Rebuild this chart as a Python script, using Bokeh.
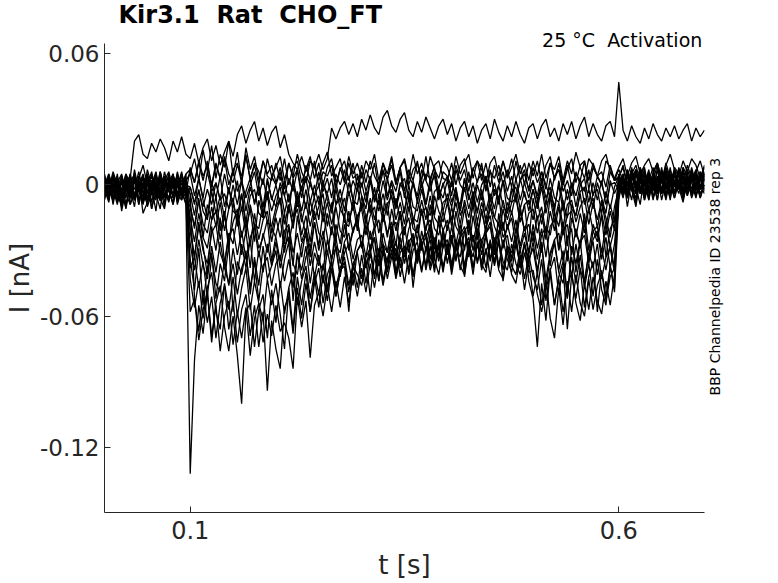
import math
from bokeh.plotting import figure
from bokeh.models import Range1d, FixedTicker, ColumnDataSource, LinearAxis
from bokeh.embed import file_html
from bokeh.resources import INLINE

# ---- data: current in pA, one sample every 5 ms from 0 to 0.7 s ----
dt = 0.005
n_samples = 141
time_s = [round(i * dt, 3) for i in range(n_samples)]

sweep_01 = [-6, 3, -9, 2, -4, -10, 1, 5, -7, -2, 4, -11, -3, 2, -8, 0, -5, 6, -3, -9,
            -132, -80, -55, -68, -49, -72, -54, -46, -65, -76, -60, -78, -100, -58, -54, -74, -57, -50, -70, -48,
            -63, -44, -59, -47, -66, -42, -55, -40, -58, -45, -38, -54, -41, -35, -51, -39, -37, -58, -36, -47,
            -32, -45, -31, -43, -29, -44, -34, -27, -42, -31, -28, -41, -30, -26, -39, -29, -25, -38, -28, -40,
            -27, -37, -25, -39, -28, -24, -38, -27, -36, -23, -35, -26, -38, -25, -34, -40, -27, -37, -26, -44,
            -52, -74, -45, -62, -38, -55, -42, -35, -50, -33, -45, -32, -47, -36, -51, -34, -48, -55, -37, -49,
            -7, 4, -3, 8, -1, -9, 5, -4, 2, 9, -3, 4, -7, 6, -1, -5, 7, 1, -6, 3, -2]
sweep_02 = [3, -7, 5, -4, -10, 1, 4, -6, -1, -8, 5, -3, 1, -7, 4, -2, -9, 2, -5, 1,
            -4, -52, -67, -48, -63, -51, -70, -54, -46, -66, -53, -72, -57, -50, -69, -55, -74, -58, -94, -62,
            -75, -84, -56, -51, -68, -47, -61, -45, -58, -42, -56, -41, -53, -38, -51, -40, -35, -49, -37, -41,
            -46, -34, -51, -32, -44, -30, -43, -33, -29, -42, -31, -27, -41, -30, -26, -39, -28, -40, -25, -38,
            -27, -41, -29, -25, -39, -28, -41, -26, -38, -29, -42, -27, -39, -43, -30, -41, -45, -32, -48, -35,
            -51, -40, -55, -43, -61, -70, -47, -64, -44, -58, -41, -54, -60, -43, -57, -46, -40, -53, -42, -38,
            5, -3, 7, -1, -6, 4, 8, -3, 2, -7, 6, -1, 4, -4, 8, 2, -5, 7, -2, 3, 9]
sweep_03 = [-4, 5, -2, -9, 3, 0, -6, 7, -3, -8, 2, -1, -12, 4, -5, 1, 5, -9, -2, 3,
            -43, -56, -44, -61, -47, -40, -58, -66, -45, -57, -42, -60, -47, -38, -57, -44, -54, -62, -43, -55,
            -45, -59, -75, -47, -40, -55, -44, -37, -52, -40, -50, -36, -48, -35, -47, -38, -33, -46, -36, -31,
            -43, -33, -29, -41, -31, -27, -40, -30, -26, -38, -28, -39, -25, -36, -27, -24, -37, -26, -35, -23,
            -36, -25, -34, -24, -37, -26, -23, -35, -27, -38, -25, -36, -26, -39, -28, -37, -41, -29, -43, -32,
            -42, -48, -34, -53, -39, -33, -50, -37, -66, -41, -52, -38, -56, -42, -35, -58, -39, -51, -37, -47,
            -2, 5, -10, 2, 7, -4, 0, 6, -6, 3, -2, 8, -4, 2, 5, -7, 1, 4, -3, 6, 2]
sweep_04 = [1, -6, 4, -8, -2, 5, -9, -4, 2, -6, 7, 0, -4, -11, 3, -2, 4, -7, 1, -4,
            -38, -33, -47, -35, -51, -33, -45, -49, -34, -46, -36, -50, -38, -32, -47, -35, -53, -37, -33, -46,
            -36, -32, -44, -34, -47, -31, -43, -33, -29, -42, -32, -45, -30, -40, -28, -41, -31, -27, -39, -30,
            -26, -38, -28, -24, -37, -27, -39, -25, -35, -24, -36, -26, -23, -35, -25, -22, -34, -24, -33, -21,
            -32, -23, -35, -24, -21, -33, -23, -36, -25, -22, -34, -24, -37, -26, -23, -35, -25, -38, -27, -36,
            -26, -39, -28, -43, -31, -25, -40, -45, -30, -42, -27, -39, -44, -31, -26, -41, -29, -39, -27, -38,
            4, -5, 1, 7, -4, 2, -7, 5, 0, -2, 8, -5, 4, 1, -4, 6, -2, 2, 5, -6, 0]
sweep_05 = [-7, 2, -4, 5, -12, -2, 4, -6, 1, -8, -3, 5, -2, -7, 0, 4, -6, -1, 6, -4,
            -27, -39, -25, -37, -43, -28, -40, -26, -38, -45, -29, -41, -27, -38, -25, -44, -30, -40, -27, -37,
            -26, -38, -28, -24, -36, -41, -27, -23, -37, -26, -35, -39, -25, -34, -24, -36, -26, -22, -34, -25,
            -23, -33, -21, -32, -35, -22, -31, -20, -33, -23, -19, -31, -22, -34, -21, -30, -18, -29, -32, -20,
            -30, -19, -29, -33, -21, -18, -30, -20, -32, -22, -19, -31, -21, -17, -29, -33, -20, -30, -22, -32,
            -21, -34, -23, -19, -37, -25, -22, -35, -24, -20, -40, -26, -23, -36, -25, -21, -34, -24, -38, -27,
            -4, 3, -6, 7, 1, -3, 6, -7, 4, 0, -4, 8, 2, -6, 1, 4, -2, 7, -5, 2, 5]
sweep_06 = [4, -2, -7, 1, 5, -4, -9, 3, -3, 4, -6, 0, 6, -4, -2, -8, 2, -6, 4, -2,
            -21, -33, -19, -30, -36, -22, -18, -31, -37, -23, -20, -32, -21, -34, -24, -19, -33, -22, -31, -20,
            -24, -35, -21, -18, -31, -22, -33, -20, -29, -17, -30, -21, -32, -19, -28, -31, -18, -29, -20, -16,
            -28, -18, -30, -20, -16, -27, -31, -19, -17, -29, -20, -15, -28, -18, -30, -19, -16, -27, -17, -29,
            -19, -15, -27, -18, -30, -16, -26, -17, -28, -19, -14, -27, -17, -29, -18, -26, -16, -28, -19, -31,
            -18, -29, -20, -33, -19, -16, -30, -21, -18, -32, -20, -29, -17, -35, -21, -19, -31, -18, -28, -20,
            2, -4, 6, -2, -10, 4, 0, 7, -6, 2, -3, 5, -4, 7, 1, -6, 4, -2, 6, 0, -4]
sweep_07 = [-2, -8, 4, -4, 1, -6, 5, -7, -2, 3, -10, -4, 4, 0, -6, -1, 5, -4, -7, 1,
            -15, -26, -13, -24, -29, -16, -12, -25, -14, -27, -17, -11, -24, -15, -28, -13, -25, -16, -12, -26,
            -15, -24, -13, -27, -16, -11, -23, -14, -26, -12, -22, -25, -13, -23, -10, -21, -24, -12, -22, -14,
            -11, -23, -14, -10, -22, -13, -24, -11, -21, -12, -23, -10, -20, -22, -11, -21, -9, -20, -23, -12,
            -21, -10, -19, -23, -11, -20, -9, -22, -12, -21, -10, -19, -24, -11, -20, -12, -22, -10, -21, -13,
            -11, -22, -13, -25, -12, -21, -10, -23, -14, -12, -24, -13, -22, -11, -21, -26, -13, -23, -12, -21,
            5, 0, -4, 4, -2, 7, -5, 2, 0, -4, 6, -2, 8, -4, 2, -2, 4, -6, 0, 5, 2]
sweep_08 = [5, -4, 0, -7, 2, -2, -6, 4, -9, 0, 2, -4, -7, 5, -2, 0, -5, 4, -4, 2,
            -9, -20, -7, -18, -22, -10, -19, -8, -21, -11, -6, -19, -10, -23, -9, -18, -20, -8, -17, -19,
            -10, -6, -18, -9, -20, -7, -17, -8, -19, -10, -5, -17, -8, -18, -9, -6, -17, -19, -7, -16,
            -8, -18, -6, -16, -7, -17, -9, -5, -16, -8, -18, -6, -15, -17, -7, -16, -5, -15, -18, -8,
            -6, -16, -8, -18, -7, -15, -5, -17, -8, -16, -6, -15, -18, -7, -16, -8, -6, -17, -9, -7,
            -16, -7, -18, -9, -6, -17, -8, -19, -9, -7, -17, -10, -6, -18, -8, -16, -7, -19, -9, -17,
            0, -5, 4, -2, 6, -4, 2, -7, 4, 0, -2, 6, -4, 0, 7, -2, 2, -4, 5, -2, 4]
sweep_09 = [-4, 1, -6, 2, -9, 4, -2, -7, 0, 5, -4, -2, 2, -6, -11, 2, 0, -4, 5, -2,
            -4, -14, -2, -12, -16, -3, -13, -5, -15, -1, -12, -14, -4, -17, -5, -2, -13, -15, -3, -12,
            -5, -1, -13, -4, -15, -3, -12, -2, -14, -5, 0, -12, -4, -13, -2, -11, -15, -3, -12, -1,
            -11, -3, -13, -1, -12, -4, -14, -2, -11, -3, -13, 0, -10, -12, -2, -11, -14, -3, -1, -12,
            -4, -10, -2, -12, -1, -11, -3, -13, -2, -12, -4, -11, 0, -10, -13, -3, -1, -11, -3, -12,
            -2, -11, -1, -13, -3, -10, 0, -12, -2, -11, -14, -3, -1, -12, -4, -2, -13, -3, -11, -1,
            4, -2, 7, 0, -4, 5, -6, 2, 8, -2, 4, -4, 0, 6, -2, 7, -5, 2, 4, -4, 0]
sweep_10 = [2, -6, -1, 4, -8, 0, -4, 5, -2, -9, 0, 4, -6, 2, -4, -7, 4, 0, -2, -6,
            -1, -8, -3, -10, -2, -9, 1, -7, -4, -11, 0, -9, 2, -12, -1, -8, 0, -10, 3, -7,
            0, -9, 2, -8, 1, -10, -1, 3, -8, 0, -9, 2, -7, -11, 1, -8, 0, 4, -7, -9,
            1, -8, 3, -6, -9, 2, -7, 1, -10, 0, 3, -7, 1, -8, 2, -9, 0, 4, -7, 1,
            -8, 2, -6, -9, 3, -7, 1, -8, 0, 4, -7, 1, -9, 2, -6, -8, 3, -7, 1, -6,
            2, -7, 1, -9, 3, -6, -8, 2, -7, 1, -10, 0, 3, -8, 1, -7, 2, -9, 0, 1,
            -2, 4, -6, 2, 7, -4, 0, 5, -2, 4, -7, 2, 5, -4, 0, 8, -2, 4, -5, 2, 6]
sweep_11 = [-6, 0, 4, -4, -8, 2, -2, -10, 4, 0, -6, 2, -4, 6, -2, -6, 0, 4, -7, 2,
            5, -5, 3, -6, 6, -3, 1, -7, 5, -4, 7, -3, 2, -6, 0, 6, -5, 3, -7, 4,
            0, 6, -5, 3, -3, 7, -6, 4, 0, -5, 6, -3, 3, -6, 5, 0, 7, -5, 2, -3,
            6, -3, 4, -6, 1, 7, -5, 2, -3, 6, -6, 4, 0, -5, 7, 2, -3, 6, -5, 0,
            4, -5, 7, 0, -3, 6, -6, 2, 5, -3, 7, -5, 0, 6, -3, 4, -6, 2, 7, -3,
            2, -5, 6, 0, -6, 4, 7, -3, 2, -5, 6, 0, -3, 7, -5, 4, 0, -6, 6, 2,
            7, 2, -3, 5, 0, 8, -4, 4, 2, -2, 7, 0, 4, -4, 6, 2, -2, 8, 0, 4, 5]
sweep_12 = [0, 5, -4, 2, -6, 4, 0, -2, 6, -4, 2, -11, 0, 4, -2, 5, -6, 0, 2, -4,
            8, 1, 10, 2, 11, -1, 9, 3, 12, 0, 7, 10, 1, 13, 3, 9, 0, 11, 4, 2,
            10, 2, 12, 0, 8, 11, 1, 7, 13, 3, 10, 0, 8, 12, 1, 7, 11, 2, 10, -1,
            9, 1, 11, 4, 0, 10, 2, 12, 1, 8, 11, 0, 7, 10, 2, 13, 1, 9, 11, 3,
            2, 10, 0, 9, 12, 1, 7, 11, 2, 10, -1, 9, 1, 11, 4, 12, 2, 9, 0, 10,
            4, 11, 1, 9, 13, 2, 10, 0, 7, 12, 1, 9, 11, 2, 10, 4, 0, 11, 8, 2,
            4, 8, -1, 5, 9, 1, 7, -2, 5, 10, 3, 7, -1, 8, 5, 0, 9, 3, 6, 11, 4]
sweep_13 = [3, -2, 6, 0, -4, 5, 1, -5, 3, 9, 0, -2, 5, -4, 2, 6, -2, 4, 0, 5,
            7, 1, 11, 4, 9, 0, 10, 3, 13, 5, 1, 9, 4, 14, 2, 10, 6, 0, 12, 4,
            8, 13, 2, 10, 4, 14, 6, 1, 11, 8, 2, 10, 15, 4, 8, 12, 2, 13, 5, 10,
            3, 11, 7, 14, 2, 10, 5, 13, 1, 8, 12, 3, 14, 5, 10, 2, 13, 7, 3, 11,
            8, 2, 13, 5, 10, 14, 3, 11, 7, 1, 10, 13, 4, 11, 3, 8, 14, 5, 10, 2,
            11, 4, 14, 3, 10, 7, 13, 2, 11, 5, 15, 8, 3, 12, 9, 4, 11, 14, 6, 3,
            8, 12, 4, 10, 13, 5, 9, 12, 6, 10, 2, 9, 14, 7, 4, 11, 6, 12, 9, 3, 8]
sweep_14 = [1, -4, 4, -2, -5, 0, 3, 20, 23, 14, 12, 19, 15, 21, 17, 11, 20, 15, 22, 14,
            12, 19, 10, 17, 21, 11, 18, 9, 15, 20, 13, 23, 27, 19, 25, 29, 20, 26, 18, 24,
            27, 17, 23, 14, 10, 7, 13, 6, 11, 8, 14, 7, 12, 26, 21, 26, 29, 23, 28, 22,
            30, 25, 32, 26, 23, 31, 34, 27, 24, 30, 33, 25, 22, 29, 24, 31, 26, 21, 27, 30,
            23, 28, 20, 26, 29, 22, 27, 19, 25, 28, 21, 30, 24, 20, 27, 22, 29, 23, 19, 26,
            28, 21, 27, 30, 22, 26, 20, 28, 23, 29, 21, 27, 31, 22, 28, 23, 20, 27, 29, 22,
            47, 25, 20, 27, 22, 19, 26, 21, 28, 23, 20, 26, 22, 27, 21, 25, 28, 20, 26, 22, 25]
sweep_15 = [-4, 2, -7, -1, 4, -9, 0, -5, 2, -13, -8, -3, 4, -7, -1, 1, -5, 5, -3, -8,
            -58, -52, -71, -57, -49, -69, -55, -76, -60, -53, -73, -58, -70, -56, -78, -61, -54, -72, -59, -69,
            -55, -67, -63, -70, -84, -51, -65, -53, -79, -55, -49, -60, -46, -58, -44, -56, -42, -54, -40, -51,
            -38, -49, -36, -47, -34, -46, -35, -31, -43, -33, -45, -32, -42, -30, -40, -28, -39, -31, -27, -38,
            -29, -39, -27, -37, -41, -28, -38, -26, -36, -40, -27, -37, -25, -35, -39, -27, -36, -41, -31, -40,
            -39, -50, -58, -47, -41, -55, -43, -58, -46, -40, -54, -62, -45, -57, -42, -53, -59, -44, -55, -41,
            -5, 2, -4, 7, -2, 4, -7, 0, 5, -4, 2, -6, 7, 0, -2, 4, -4, 5, 2, -2, 4]
sweep_16 = [3, -5, 1, -8, 4, -2, -6, 2, -9, 1, 5, -4, -1, -7, 3, -3, -8, 2, -5, 0,
            -1, -9, 3, -7, -15, 1, -6, 4, -10, -2, -8, 2, -12, -3, 3, -9, -1, -14, 2, -6,
            -10, 1, -5, -13, 3, -7, -1, -11, 2, -6, -16, 0, -4, 3, -9, -2, -12, 1, -7, 4,
            -5, -11, 2, -8, -1, -13, 3, -6, -10, 1, -4, -12, 2, -7, 0, -9, 3, -14, -2, -6,
            2, -8, -1, -12, 3, -5, -10, 0, -7, 4, -11, -2, -6, 2, -13, -1, -8, 3, -5, -9,
            -2, -10, 3, -6, -1, -12, 2, -8, -15, 0, -5, 3, -9, -2, -11, 1, -6, -13, 2, -4,
            1, -6, 4, -3, 7, -1, -5, 3, -7, 2, 6, -2, 0, -6, 5, 1, -4, 3, -1, 6, -3]
sweep_17 = [-3, 4, -6, 0, -10, 2, -4, 5, -7, -1, 3, -8, 1, -5, 6, -2, -9, 0, 4, -6,
            -10, -19, -6, -24, -9, -16, -5, -21, -12, -30, -8, -17, -4, -20, -11, -26, -7, -15, -3, -22,
            -13, -6, -27, -9, -18, -5, -14, -23, -7, -16, -10, -4, -19, -8, -25, -11, -6, -17, -9, -21,
            -5, -15, -9, -20, -4, -13, -8, -24, -6, -16, -11, -3, -18, -7, -14, -10, -22, -5, -12, -17,
            -8, -19, -4, -14, -9, -23, -6, -12, -3, -18, -10, -15, -5, -21, -8, -13, -4, -17, -9, -26,
            -6, -16, -10, -22, -5, -13, -19, -7, -28, -9, -14, -4, -18, -11, -6, -20, -8, -15, -24, -10,
            -2, 5, -5, 1, -8, 4, 0, -6, 6, -3, 2, -7, 3, -1, 7, -4, 1, -5, 4, -2, 0]
sweep_18 = [2, -7, 5, -3, -9, 1, -5, 4, -2, -8, 0, 6, -4, -1, -10, 3, -6, 1, -3, 5,
            -20, -33, -17, -28, -41, -19, -30, -15, -36, -22, -27, -14, -32, -21, -38, -18, -29, -24, -16, -35,
            -23, -15, -31, -19, -37, -14, -26, -20, -33, -17, -28, -12, -24, -35, -18, -27, -13, -30, -21, -16,
            -29, -14, -25, -19, -33, -13, -22, -17, -28, -12, -31, -20, -15, -26, -11, -24, -18, -34, -14, -21,
            -16, -27, -12, -23, -19, -30, -14, -25, -11, -22, -17, -32, -13, -24, -20, -15, -28, -12, -21, -18,
            -26, -14, -31, -19, -23, -12, -29, -17, -35, -15, -22, -27, -13, -30, -18, -24, -14, -33, -20, -16,
            4, -3, 1, -7, 5, -1, -5, 3, -2, 7, -4, 0, -6, 4, 2, -3, 6, -5, 1, -2, 3]
sweep_19 = [-5, 1, -8, 3, -2, -11, 0, -6, 4, -3, -9, 2, -4, -7, 1, -2, 5, -8, -1, -4,
            -34, -48, -29, -55, -38, -31, -52, -36, -44, -27, -58, -35, -41, -30, -50, -33, -46, -28, -43, -37,
            -30, -47, -34, -26, -53, -32, -39, -28, -45, -31, -37, -25, -49, -33, -29, -42, -27, -36, -46, -30,
            -27, -38, -31, -24, -44, -29, -35, -23, -40, -28, -33, -25, -47, -30, -26, -37, -22, -34, -41, -28,
            -25, -36, -29, -23, -42, -27, -33, -22, -39, -30, -26, -35, -24, -44, -28, -31, -23, -38, -27, -34,
            -29, -41, -26, -48, -32, -27, -39, -30, -52, -28, -36, -25, -45, -31, -38, -27, -43, -33, -29, -40,
            -3, 3, -6, 1, -9, 5, -2, -5, 2, -7, 4, 0, -4, 6, -1, -8, 3, -3, 1, -6, 2]
sweep_20 = [0, -4, 3, -7, 2, -2, 5, -5, -1, 4, -8, 1, -3, 6, -2, -6, 3, 0, -4, 2,
            5, 12, 2, 16, 6, 18, 3, 14, 8, 20, 4, 15, 1, 17, 7, 13, 2, 11, 5, 9,
            1, 8, -2, 10, 3, 7, -3, 9, 2, 11, -1, 6, 4, 9, -2, 8, 1, 10, 3, 5,
            -1, 7, 2, 10, -2, 6, 3, 9, 0, 8, -3, 7, 2, 11, -1, 5, 3, 8, -2, 6,
            4, -1, 9, 2, 7, -3, 8, 1, 10, -2, 6, 3, 9, 0, 7, -1, 11, 2, 5, -2,
            8, 1, 6, -2, 10, 3, 7, 0, 9, -1, 5, 2, 11, -2, 8, 4, 6, -1, 9, 2,
            3, 9, 0, 6, -2, 8, 2, 5, -3, 7, 1, 10, 3, 6, -1, 8, 4, 2, 7, -1, 5]

sweeps_pA = [sweep_01, sweep_02, sweep_03, sweep_04, sweep_05, sweep_06, sweep_07, sweep_08,
             sweep_09, sweep_10, sweep_11, sweep_12, sweep_13, sweep_14, sweep_15, sweep_16,
             sweep_17, sweep_18, sweep_19, sweep_20]

x_ticks = [0.1, 0.6]
x_tick_labels = ["0.1", "0.6"]
y_ticks = [-0.12, -0.06, 0, 0.06]
y_tick_labels = ["-0.12", "-0.06", "0", "0.06"]

title_text = "Kir3.1\u00a0 Rat\u00a0 CHO_FT"
condition_text = "25 \u00b0C\u00a0 Activation"
condition_x = 0.604
source_text = "BBP Channelpedia ID 23538 rep 3"
source_y = -0.0962

# ---- figure ----
FONT = "DejaVu Sans"
TXT = "#262626"

p = figure(width=778, height=583,
           x_range=Range1d(0, 0.7), y_range=Range1d(-0.1497, 0.0646),
           output_backend="svg", toolbar_location=None,
           min_border_left=104, min_border_right=74,
           min_border_top=43, min_border_bottom=71)
p.outline_line_color = None
p.xgrid.visible = False
p.ygrid.visible = False
p.background_fill_color = "white"
p.border_fill_color = "white"

xs = [time_s[:len(s)] for s in sweeps_pA]
ys = [[v / 1000.0 for v in s] for s in sweeps_pA]
src = ColumnDataSource(dict(xs=xs, ys=ys))
p.multi_line(xs="xs", ys="ys", source=src, line_color="black", line_width=1.3)

for ax in (p.xaxis[0], p.yaxis[0]):
    ax.axis_line_color = TXT
    ax.major_tick_line_color = TXT
    ax.major_tick_in = 6
    ax.major_tick_out = 0
    ax.minor_tick_line_color = None
    ax.major_label_text_font = FONT
    ax.major_label_text_color = TXT
    ax.axis_label_text_font = FONT
    ax.axis_label_text_font_style = "normal"
    ax.axis_label_text_font_size = "26px"
    ax.axis_label_text_color = TXT

p.xaxis.ticker = FixedTicker(ticks=x_ticks)
p.xaxis.major_label_overrides = dict(zip(x_ticks, x_tick_labels))
p.xaxis.axis_label = "t [s]"
p.xaxis.major_label_text_font_size = "24px"
p.xaxis.major_label_standoff = 8
p.xaxis.axis_label_standoff = 8

p.yaxis.ticker = FixedTicker(ticks=y_ticks)
p.yaxis.major_label_overrides = dict(zip(y_ticks, y_tick_labels))
p.yaxis.axis_label = "I [nA]"
p.yaxis.major_label_text_font_size = "23px"
p.yaxis.major_label_standoff = 5
p.yaxis.axis_label_standoff = 2

# condition text just above the plot area (axis without line or ticks)
cond_axis = LinearAxis(ticker=FixedTicker(ticks=[condition_x]),
                       major_label_overrides={condition_x: condition_text},
                       axis_line_color=None, major_tick_line_color=None,
                       minor_tick_line_color=None, major_tick_out=0, major_tick_in=0,
                       major_label_standoff=-7,
                       major_label_text_font=FONT, major_label_text_font_size="19px",
                       major_label_text_color="black")
p.add_layout(cond_axis, "above")

# vertical source note on the right
src_axis = LinearAxis(ticker=FixedTicker(ticks=[source_y]),
                      major_label_overrides={source_y: source_text},
                      major_label_orientation=math.pi / 2,
                      axis_line_color=None, major_tick_line_color=None,
                      minor_tick_line_color=None, major_tick_out=0, major_tick_in=0,
                      major_label_standoff=11,
                      major_label_text_font=FONT, major_label_text_font_size="14px",
                      major_label_text_color="black")
p.add_layout(src_axis, "right")

p.title.text = title_text
p.title.text_font = FONT
p.title.text_font_size = "24px"
p.title.text_font_style = "bold"
p.title.text_color = "black"
p.title.align = "left"
p.title.offset = 14
p.title.standoff = -6

open("out.html", "w").write(file_html(p, INLINE))
